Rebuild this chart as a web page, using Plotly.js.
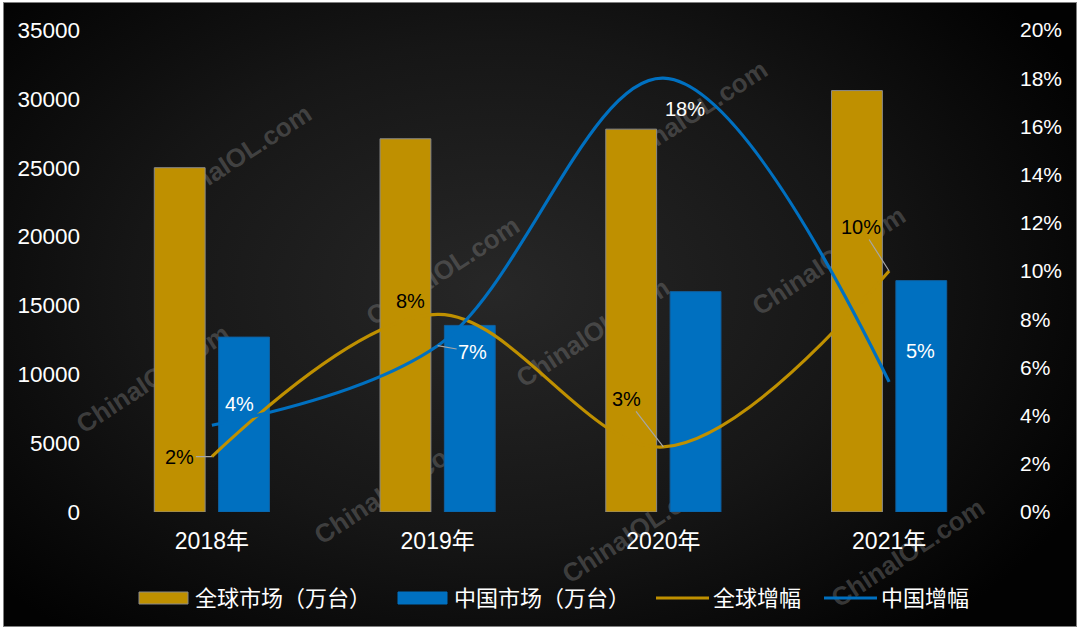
<!DOCTYPE html>
<html>
<head>
<meta charset="utf-8">
<script src="https://cdn.plot.ly/plotly-3.0.1.min.js"></script>
<style>
  html, body { margin: 0; padding: 0; background: #ffffff; }
  #frame {
    position: absolute; left: 3px; top: 2px; width: 1072px; height: 623px;
    border: 1px solid #7f7f7f;
    background: radial-gradient(ellipse 62% 72% at 46% 46%, #272727 0%, #161616 55%, #020202 100%);
    overflow: hidden;
  }
  .wm {
    position: absolute; white-space: nowrap;
    font: bold 26px "Liberation Sans", Arial, sans-serif;
    color: rgba(125,125,125,0.42);
    transform: translate(-50%, -50%) rotate(-33deg);
  }
  #chart { position: absolute; left: 0; top: 0; width: 1080px; height: 631px; }
</style>
</head>
<body>
<div id="frame"></div>
<div id="chart"></div>
<script>
// ---- data ----
const categories = ['2018年', '2019年', '2020年', '2021年'];
const globalMarket = [25000, 27100, 27800, 30600];
const chinaMarket = [12700, 13550, 16000, 16800];
const globalGrowth = [0.023, 0.082, 0.027, 0.100];
const chinaGrowth = [0.036, 0.069, 0.180, 0.054];
const seriesNames = ['全球市场（万台）', '中国市场（万台）', '全球增幅', '中国增幅'];
const watermarkText = 'ChinaIOL.com';

// ---- styles ----
const GOLD = '#BF9000';
const BLUE = '#0070C0';
const FONT = '"Liberation Sans", Arial, "Noto Sans CJK SC", sans-serif';

// watermarks (behind the chart)
const frame = document.getElementById('frame');
[[234,158],[152,378],[442,270],[390,489],[592,332],[638,528],[690,114],[828,260],[907,552]].forEach(p => {
  const d = document.createElement('div');
  d.className = 'wm';
  d.textContent = watermarkText;
  d.style.left = (p[0] - 3) + 'px';
  d.style.top = (p[1] - 2) + 'px';
  frame.appendChild(d);
});

const W = 1080, H = 631;
const M = {l: 99, r: 78, t: 30, b: 119};
const pw = W - M.l - M.r, ph = H - M.t - M.b;
const px = x => (x - M.l) / pw;
const py = y => (H - M.b - y) / ph;

const traces = [
  {type: 'bar', name: seriesNames[0], x: categories, y: globalMarket,
   marker: {color: GOLD, line: {color: '#8a8a8a', width: 1}}, yaxis: 'y'},
  {type: 'bar', name: seriesNames[1], x: categories, y: chinaMarket,
   marker: {color: BLUE, line: {color: '#1060a0', width: 1}}, yaxis: 'y'},
  {type: 'scatter', mode: 'lines', name: seriesNames[2], x: categories, y: globalGrowth,
   line: {color: GOLD, width: 3.2, shape: 'spline', smoothing: 1}, yaxis: 'y2'},
  {type: 'scatter', mode: 'lines', name: seriesNames[3], x: categories, y: chinaGrowth,
   line: {color: BLUE, width: 3.2, shape: 'spline', smoothing: 1}, yaxis: 'y2'}
];

const pct = v => Math.round(v * 100) + '%';
// label offsets [dx, dy (screen px, + = down), leader line]
const gOff = [[-32, 0, true], [-27, -13, false], [-37, -48, true], [-28, -44, true]];
const cOff = [[28, -21, false], [35, 6, true], [22, 31, false], [31, -31, false]];

const annotations = [];
function addLabels(vals, offs, color) {
  vals.forEach((v, i) => {
    const o = offs[i];
    const a = {xref: 'x', yref: 'y2', x: categories[i], y: v, text: pct(v),
      font: {family: FONT, size: 20, color: color}};
    if (o[2]) {
      Object.assign(a, {showarrow: true, ax: o[0], ay: o[1], arrowhead: 0,
        arrowwidth: 1.2, arrowcolor: '#a6a6a6', standoff: 0, startstandoff: 0});
    } else {
      Object.assign(a, {showarrow: false, xshift: o[0], yshift: -o[1]});
    }
    annotations.push(a);
  });
}
addLabels(globalGrowth, gOff, '#000000');
addLabels(chinaGrowth, cOff, '#ffffff');

// custom legend
const legendY = 598;
const legendItems = [
  {kind: 'rect', color: GOLD, border: '#8a8a8a', x0: 139, x1: 188, tx: 193, text: seriesNames[0]},
  {kind: 'rect', color: BLUE, border: BLUE, x0: 398, x1: 447, tx: 452, text: seriesNames[1]},
  {kind: 'line', color: GOLD, x0: 656, x1: 709, tx: 711, text: seriesNames[2]},
  {kind: 'line', color: BLUE, x0: 824, x1: 877, tx: 879, text: seriesNames[3]}
];
const shapes = [];
legendItems.forEach(it => {
  if (it.kind === 'rect') {
    shapes.push({type: 'rect', xref: 'paper', yref: 'paper', x0: px(it.x0), x1: px(it.x1),
      y0: py(legendY - 6), y1: py(legendY + 6), fillcolor: it.color, line: {color: it.border, width: 1}});
  } else {
    shapes.push({type: 'line', xref: 'paper', yref: 'paper', x0: px(it.x0), x1: px(it.x1),
      y0: py(legendY), y1: py(legendY), line: {color: it.color, width: 3.2}});
  }
  annotations.push({xref: 'paper', yref: 'paper', x: px(it.tx), y: py(legendY), xanchor: 'left',
    yanchor: 'middle', showarrow: false, text: it.text, font: {family: FONT, size: 22, color: '#ffffff'}});
});

const layout = {
  width: W, height: H,
  margin: M,
  paper_bgcolor: 'rgba(0,0,0,0)', plot_bgcolor: 'rgba(0,0,0,0)',
  showlegend: false,
  barmode: 'group', bargap: 0.43, bargroupgap: 0.21,
  font: {family: FONT, color: '#ffffff', size: 21},
  xaxis: {type: 'category', showgrid: false, showline: false, zeroline: false, ticks: '',
    tickfont: {family: FONT, size: 23, color: '#ffffff'}, ticklabelstandoff: 13},
  yaxis: {range: [0, 35000], dtick: 5000, tickformat: 'd', showgrid: false, zeroline: false, showline: false, ticks: '',
    tickfont: {family: FONT, size: 22.5, color: '#ffffff'}, ticklabelstandoff: 18},
  yaxis2: {range: [0, 0.2], dtick: 0.02, tickformat: '.0%', overlaying: 'y', side: 'right',
    showgrid: false, zeroline: false, showline: false, ticks: '',
    tickfont: {family: FONT, size: 21, color: '#ffffff'}, ticklabelstandoff: 17},
  annotations: annotations,
  shapes: shapes
};

Plotly.newPlot('chart', traces, layout, {displayModeBar: false, staticPlot: true});
</script>
</body>
</html>
